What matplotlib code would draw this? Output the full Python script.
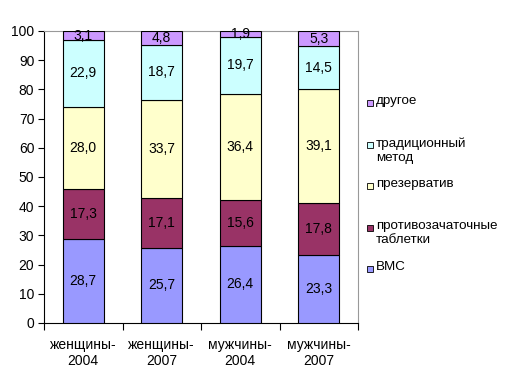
import matplotlib.pyplot as plt
from matplotlib.patches import Rectangle

plt.rcParams['font.family'] = ['Liberation Sans', 'DejaVu Sans']

categories = ["женщины-\n2004", "женщины-\n2007", "мужчины-\n2004", "мужчины-\n2007"]
series_names = ["ВМС", "противозачаточные\nтаблетки", "презерватив", "традиционный\nметод", "другое"]
vms = [28.7, 25.7, 26.4, 23.3]
pills = [17.3, 17.1, 15.6, 17.8]
condom = [28.0, 33.7, 36.4, 39.1]
traditional = [22.9, 18.7, 19.7, 14.5]
other = [3.1, 4.8, 1.9, 5.3]
series = [vms, pills, condom, traditional, other]
colors = ["#9999FF", "#993366", "#FFFFCC", "#CCFFFF", "#CC99FF"]

fig = plt.figure(figsize=(5.05, 3.87), dpi=100)
ax = fig.add_axes([44 / 505, 1 - 323 / 387, 314 / 505, 292 / 387])

x = range(len(categories))
bottom = [0.0] * len(categories)
for vals, col in zip(series, colors):
    ax.bar(x, vals, width=0.52, bottom=bottom, color=col, edgecolor="black", linewidth=0.8, zorder=3)
    for i, v in enumerate(vals):
        ax.text(i, bottom[i] + v / 2, ("%.1f" % v).replace(".", ","), ha="center", va="center",
                fontsize=10, color="black", zorder=4)
    bottom = [b + v for b, v in zip(bottom, vals)]

# Format plot
ax.set_xlim(-0.5, 3.5)
ax.set_ylim(0, 100)
ax.set_yticks(range(0, 101, 10))
ax.tick_params(axis="y", direction="out", length=4, labelsize=10, pad=3)
ax.set_xticks([i - 0.5 for i in range(5)])
ax.set_xticklabels([])
ax.set_xticks(list(x), minor=True)
ax.set_xticklabels(categories, minor=True, fontsize=10)
ax.tick_params(axis="x", which="major", direction="out", length=5)
ax.tick_params(axis="x", which="minor", length=0, pad=11)
ax.spines["top"].set_color("#999999")
ax.spines["right"].set_color("#999999")

# Legend drawn by hand so multi-line entries align with their marker
leg_y = [269, 228, 186, 145, 103]
for name, col, yy in zip(series_names, colors, leg_y):
    fig.patches.append(Rectangle((367 / 505, 1 - (yy + 3) / 387), 6 / 505, 6 / 387,
                                 transform=fig.transFigure, facecolor=col,
                                 edgecolor="black", linewidth=0.6))
    fig.text(376 / 505, 1 - (yy - 8) / 387, name, ha="left", va="top", fontsize=9.6,
             linespacing=1.25)

fig.savefig("out.png", dpi=100)
